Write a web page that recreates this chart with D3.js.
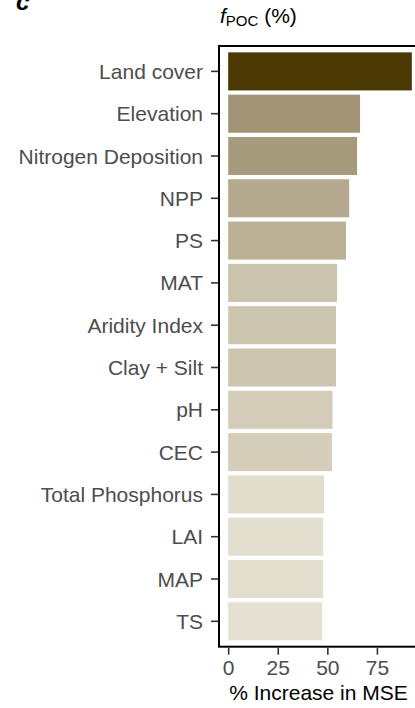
<!DOCTYPE html>
<html>
<head>
<meta charset="utf-8">
<script src="https://cdn.jsdelivr.net/npm/d3@7"></script>
<style>
  body { margin: 0; background: #fff; }
  svg { display: block; font-family: "Liberation Sans", Arial, sans-serif; }
</style>
</head>
<body>
<div id="chart"></div>
<script>
const width = 415;
const height = 708;

// data, top to bottom
const categories = ["Land cover", "Elevation", "Nitrogen Deposition", "NPP", "PS", "MAT",
  "Aridity Index", "Clay + Silt", "pH", "CEC", "Total Phosphorus", "LAI", "MAP", "TS"];
const values = [92.6, 66.5, 65.0, 61.0, 59.4, 54.9, 54.4, 54.4, 52.6, 52.3, 48.4, 47.9, 47.9, 47.4];
const xTicks = [0, 25, 50, 75];

const data = categories.map((c, i) => ({ name: c, value: values[i] }));

// panel box (right edge runs off the picture, as in the original)
const panel = { left: 219, top: 46, right: 421, bottom: 646.7 };

const svg = d3.select("#chart")
  .append("svg")
  .attr("width", width)
  .attr("height", height);

const maxV = d3.max(values);
const x = d3.scaleLinear()
  .domain([-0.05 * maxV, 1.05 * maxV])
  .range([panel.left, panel.right]);

const step = (panel.bottom - panel.top) / (categories.length + 0.2);
const y = d3.scaleBand()
  .domain(categories)
  .range([panel.top + 0.1 * step, panel.bottom - 0.1 * step])
  .paddingInner(0.1)
  .paddingOuter(0.05);

// fill by value, interpolated in Lab like ggplot's gradient
const color = d3.scaleLinear()
  .domain([d3.min(values), maxV])
  .range(["#e4e1d2", "#4b3903"])
  .interpolate(d3.interpolateLab);

// bars
svg.append("g")
  .selectAll("rect")
  .data(data)
  .enter()
  .append("rect")
  .attr("x", x(0))
  .attr("y", d => y(d.name))
  .attr("width", d => x(d.value) - x(0))
  .attr("height", y.bandwidth())
  .attr("fill", d => color(d.value));

// panel border
svg.append("rect")
  .attr("x", panel.left)
  .attr("y", panel.top)
  .attr("width", panel.right - panel.left)
  .attr("height", panel.bottom - panel.top)
  .attr("fill", "none")
  .attr("stroke", "#000")
  .attr("stroke-width", 2);

// y axis
const yAxis = svg.append("g")
  .attr("transform", `translate(${panel.left - 1},0)`)
  .call(d3.axisLeft(y).tickSize(7).tickPadding(8));
yAxis.select(".domain").remove();
yAxis.selectAll(".tick line").attr("stroke", "#333").attr("stroke-width", 1.6);
yAxis.selectAll(".tick text")
  .attr("fill", "#4d4d4d")
  .style("font-size", "21px")
  .attr("dy", "0.36em");

// x axis
const xAxis = svg.append("g")
  .attr("transform", `translate(0,${panel.bottom + 1})`)
  .call(d3.axisBottom(x).tickValues(xTicks).tickSize(7).tickPadding(5));
xAxis.select(".domain").remove();
xAxis.selectAll(".tick line").attr("stroke", "#333").attr("stroke-width", 1.6);
xAxis.selectAll(".tick text")
  .attr("fill", "#4d4d4d")
  .style("font-size", "21px");

// x axis title
svg.append("text")
  .attr("x", (panel.left + panel.right) / 2 - 1.5)
  .attr("y", 700)
  .attr("text-anchor", "middle")
  .style("font-size", "21px")
  .attr("fill", "#000")
  .text("% Increase in MSE");

// panel title f_POC (%)
const title = svg.append("text")
  .attr("x", panel.left + 1)
  .attr("y", 23)
  .style("font-size", "21px")
  .attr("fill", "#000");
title.append("tspan").style("font-style", "italic").text("f");
title.append("tspan").attr("dy", 3).style("font-size", "15px").text("POC");
title.append("tspan").attr("dy", -3).text(" (%)");

// panel letter (cut at the top edge, as in the original)
svg.append("text")
  .attr("x", 16)
  .attr("y", 10)
  .style("font-size", "24px")
  .style("font-weight", "bold")
  .style("font-style", "italic")
  .text("c");
</script>
</body>
</html>
